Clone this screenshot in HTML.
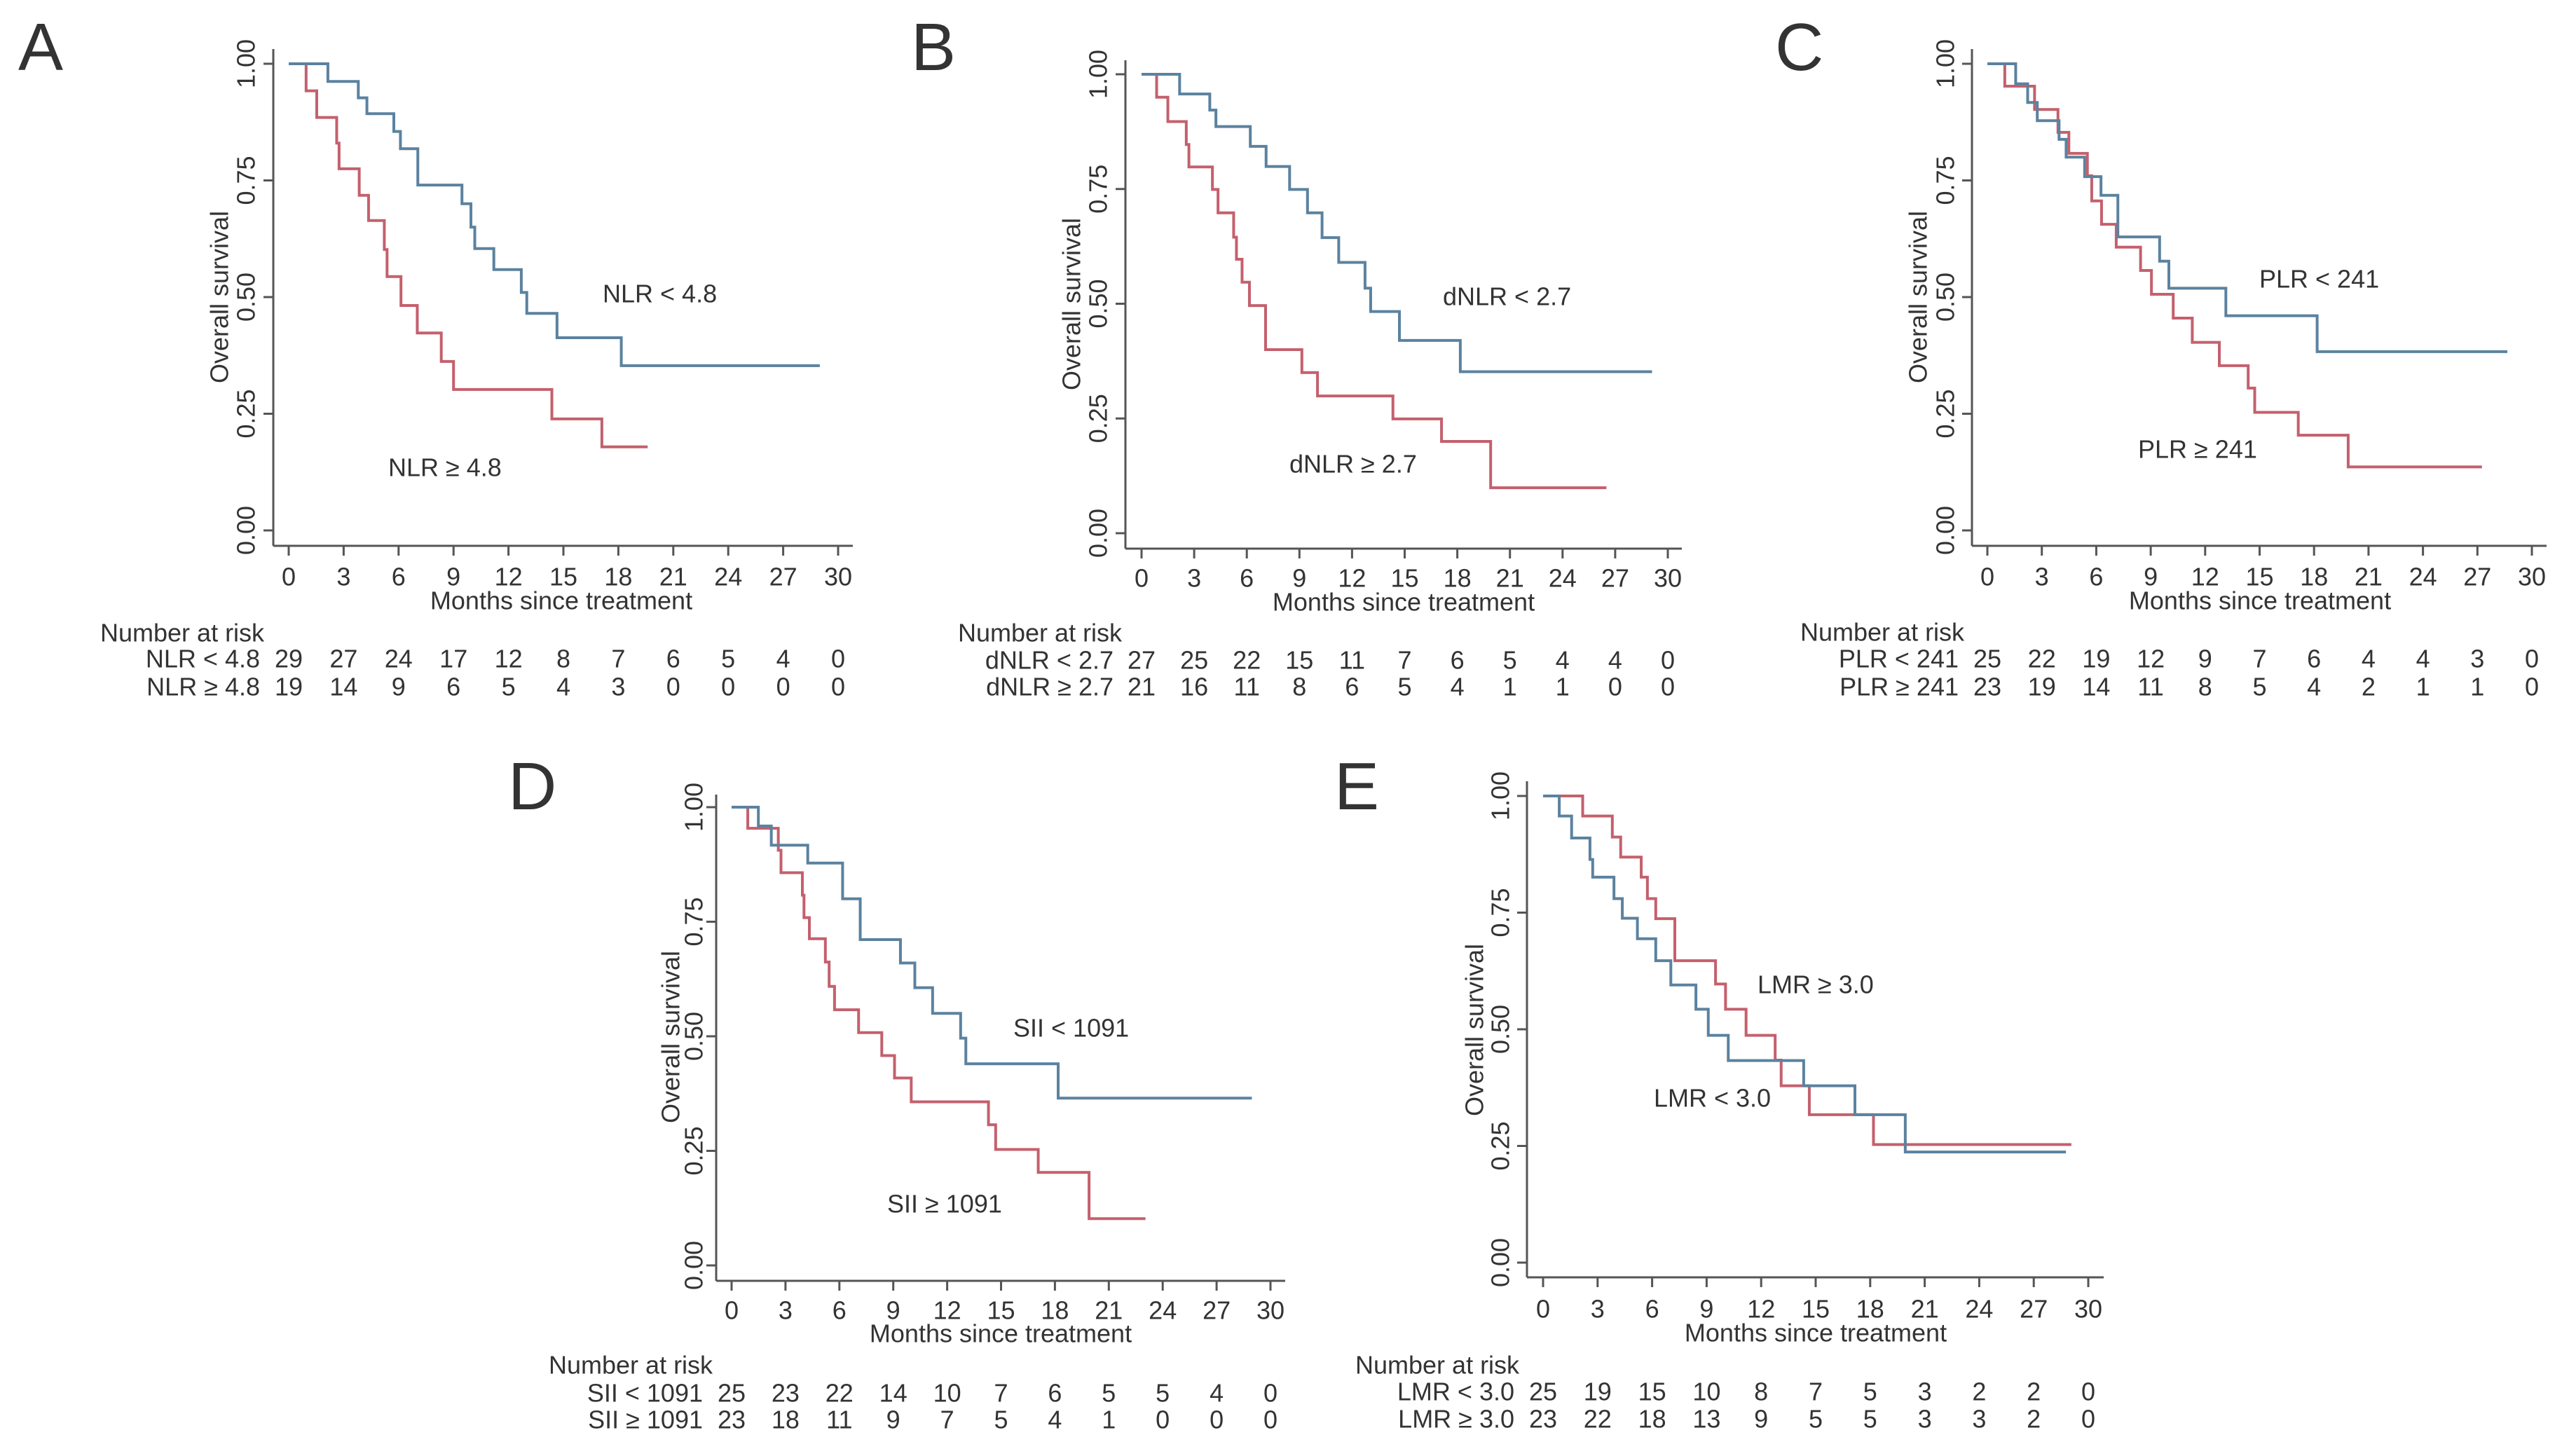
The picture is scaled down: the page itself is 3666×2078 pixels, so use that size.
<!DOCTYPE html>
<html><head><meta charset="utf-8"><style>
html,body{margin:0;padding:0;background:#fff;}
svg{display:block;}
text{font-family:"Liberation Sans",Arial,sans-serif;fill:#333;}
</style></head><body>
<svg id="fig" width="3666" height="2078" viewBox="0 0 3666 2078" xmlns="http://www.w3.org/2000/svg"></svg>
<script>
// ---- data (months, survival after step) ----
const xTicks = [0,3,6,9,12,15,18,21,24,27,30];
const yTicks = [0, 0.25, 0.5, 0.75, 1.0];
const yTickLabels = ["0.00","0.25","0.50","0.75","1.00"];

const aBlueT = [0,2.14,3.8,4.27,5.74,6.1,7.05,9.46,9.95,10.16,11.2,12.7,13.0,14.65,18.16,29.0];
const aBlueS = [1,0.962,0.927,0.893,0.855,0.818,0.74,0.70,0.65,0.604,0.559,0.51,0.465,0.413,0.353,0.353];
const aRedT = [0,0.95,1.53,2.62,2.75,3.85,4.36,5.22,5.37,6.13,7.02,8.33,9.0,14.37,17.1,19.6];
const aRedS = [1,0.942,0.885,0.83,0.775,0.718,0.664,0.602,0.544,0.482,0.423,0.362,0.302,0.239,0.179,0.179];
const aRiskBlue = [29,27,24,17,12,8,7,6,5,4,0];
const aRiskRed = [19,14,9,6,5,4,3,0,0,0,0];

const bBlueT = [0,2.17,3.89,4.24,6.2,7.1,8.44,9.46,10.29,11.24,12.74,13.06,14.7,18.17,29.1];
const bBlueS = [1,0.957,0.922,0.886,0.843,0.799,0.749,0.698,0.644,0.59,0.534,0.483,0.42,0.352,0.352];
const bRedT = [0,0.86,1.5,2.55,2.7,4.04,4.36,5.25,5.41,5.73,6.15,7.07,9.14,10.03,14.33,17.1,19.9,26.5];
const bRedS = [1,0.95,0.897,0.847,0.798,0.749,0.698,0.645,0.597,0.547,0.496,0.4,0.35,0.299,0.249,0.2,0.099,0.099];
const bRiskBlue = [27,25,22,15,11,7,6,5,4,4,0];
const bRiskRed = [21,16,11,8,6,5,4,1,1,0,0];

const cBlueT = [0,1.56,2.22,2.75,3.95,4.34,5.36,6.26,7.19,9.49,10.0,13.14,18.17,28.65];
const cBlueS = [1,0.957,0.917,0.878,0.838,0.8,0.758,0.718,0.629,0.577,0.519,0.46,0.383,0.383];
const cRedT = [0,0.96,2.6,3.89,4.49,5.51,5.75,6.29,7.1,8.44,9.04,10.24,11.29,12.78,14.37,14.73,17.13,19.88,27.25];
const cRedS = [1,0.952,0.902,0.853,0.808,0.76,0.706,0.656,0.607,0.557,0.506,0.455,0.403,0.353,0.305,0.253,0.204,0.136,0.136];
const cRiskBlue = [25,22,19,12,9,7,6,4,4,3,0];
const cRiskRed = [23,19,14,11,8,5,4,2,1,1,0];

const dBlueT = [0,1.49,2.21,4.24,6.18,7.16,9.4,10.2,11.19,12.75,13.04,18.18,28.96];
const dBlueS = [1,0.959,0.917,0.878,0.8,0.711,0.66,0.606,0.55,0.496,0.44,0.365,0.365];
const dRedT = [0,0.9,2.6,2.75,3.94,4.03,4.33,5.22,5.43,5.73,7.07,8.36,9.07,10.0,14.3,14.7,17.07,19.9,23.04];
const dRedS = [1,0.954,0.906,0.857,0.808,0.759,0.713,0.662,0.609,0.558,0.508,0.458,0.409,0.357,0.307,0.253,0.203,0.102,0.102];
const dRiskBlue = [25,23,22,14,10,7,6,5,5,4,0];
const dRiskRed = [23,18,11,9,7,5,4,1,0,0,0];

const eBlueT = [0,0.89,1.57,2.58,2.73,3.9,4.36,5.19,6.2,7.03,8.41,9.09,10.19,14.34,17.16,19.93,28.77];
const eBlueS = [1,0.957,0.91,0.864,0.826,0.78,0.738,0.694,0.647,0.595,0.543,0.487,0.433,0.379,0.317,0.237,0.237];
const eRedT = [0,2.18,3.81,4.27,5.4,5.74,6.2,7.25,9.49,10.04,11.17,12.77,13.1,14.65,18.18,29.07];
const eRedS = [1,0.957,0.912,0.869,0.826,0.78,0.737,0.647,0.597,0.543,0.487,0.434,0.379,0.317,0.253,0.253];
const eRiskBlue = [25,19,15,10,8,7,5,3,2,2,0];
const eRiskRed = [23,22,18,13,9,5,5,3,3,2,0];

// ---- layout (pixels) ----
const panels = [
 {id:'a',letter:'A',lx:26,ly:100,ax:390,x0:412,x30:1196,xr:1217,yt:70,y1:91,y0:757,yb:779,tickY:823,titleY:857,titleX:801,narX:143,narY:903,r1:940,r2:980,labR:371,ytx:313,yty:424,ylx:351,
  blueT:aBlueT,blueS:aBlueS,redT:aRedT,redS:aRedS,riskB:aRiskBlue,riskR:aRiskRed,bl:'NLR < 4.8',rl:'NLR ≥ 4.8',
  bLab:[860,419],rLab:[554,667]},
 {id:'b',letter:'B',lx:1300,ly:100,ax:1606,x0:1629,x30:2380,xr:2400,yt:86,y1:106,y0:761,yb:783,tickY:825,titleY:859,titleX:2003,narX:1367,narY:903,r1:942,r2:980,labR:1589,ytx:1529,yty:434,ylx:1567,
  blueT:bBlueT,blueS:bBlueS,redT:bRedT,redS:bRedS,riskB:bRiskBlue,riskR:bRiskRed,bl:'dNLR < 2.7',rl:'dNLR ≥ 2.7',
  bLab:[2059,423],rLab:[1840,662]},
 {id:'c',letter:'C',lx:2533,ly:100,ax:2814,x0:2836,x30:3613,xr:3634,yt:70,y1:91,y0:757,yb:779,tickY:823,titleY:857,titleX:3225,narX:2569,narY:902,r1:940,r2:980,labR:2795,ytx:2737,yty:424,ylx:2776,
  blueT:cBlueT,blueS:cBlueS,redT:cRedT,redS:cRedS,riskB:cRiskBlue,riskR:cRiskRed,bl:'PLR < 241',rl:'PLR ≥ 241',
  bLab:[3224,398],rLab:[3051,641]},
 {id:'d',letter:'D',lx:725,ly:1155,ax:1022,x0:1044,x30:1813,xr:1834,yt:1134,y1:1152,y0:1806,yb:1828,tickY:1870,titleY:1903,titleX:1428,narX:783,narY:1948,r1:1988,r2:2026,labR:1003,ytx:957,yty:1480,ylx:990,
  blueT:dBlueT,blueS:dBlueS,redT:dRedT,redS:dRedS,riskB:dRiskBlue,riskR:dRiskRed,bl:'SII < 1091',rl:'SII ≥ 1091',
  bLab:[1446,1467],rLab:[1266,1718]},
 {id:'e',letter:'E',lx:1904,ly:1155,ax:2179,x0:2202,x30:2980,xr:3002,yt:1115,y1:1136,y0:1802,yb:1823,tickY:1868,titleY:1902,titleX:2591,narX:1934,narY:1948,r1:1986,r2:2025,labR:2161,ytx:2104,yty:1470,ylx:2141,
  blueT:eBlueT,blueS:eBlueS,redT:eRedT,redS:eRedS,riskB:eRiskBlue,riskR:eRiskRed,bl:'LMR < 3.0',rl:'LMR ≥ 3.0',
  bLab:[2360,1567],rLab:[2508,1405]}
];

const NS='http://www.w3.org/2000/svg';
const svg=document.getElementById('fig');
function mk(tag,attrs,parent){const e=document.createElementNS(NS,tag);for(const k in attrs)e.setAttribute(k,attrs[k]);(parent||svg).appendChild(e);return e;}
function txt(s,attrs,parent){const e=mk('text',attrs,parent);e.textContent=s;return e;}

panels.forEach(p=>{
  const g=mk('g',{});
  
  
  const xs=m=>p.x0+(p.x30-p.x0)*m/30;
  const ys=v=>p.y0-(p.y0-p.y1)*v;
  const L=txt(p.letter,{x:p.lx,y:p.ly,'font-size':96,fill:'#000'},g);
  
  
  const ya=mk('line',{x1:p.ax,y1:p.yt,x2:p.ax,y2:p.yb,stroke:'#555','stroke-width':3},g);
  
  
  const xa=mk('line',{x1:p.ax,y1:p.yb,x2:p.xr,y2:p.yb,stroke:'#555','stroke-width':3},g);
  
  
  yTicks.forEach((v,i)=>{
    const y=ys(v);
    mk('line',{x1:p.ax-14,y1:y,x2:p.ax,y2:y,stroke:'#555','stroke-width':3},g);
    const t=txt(yTickLabels[i],{x:p.ylx,y:y,'font-size':36,'text-anchor':'middle','dominant-baseline':'central',transform:`rotate(-90 ${p.ylx} ${y})`},g);
    
    
  });
  xTicks.forEach(m=>{
    const x=xs(m);
    mk('line',{x1:x,y1:p.yb,x2:x,y2:p.yb+14,stroke:'#555','stroke-width':3},g);
    const t=txt(String(m),{x:x,y:p.tickY,'font-size':36,'text-anchor':'middle','dominant-baseline':'central'},g);
    
    
  });
  const xt=txt('Months since treatment',{x:p.titleX,y:p.titleY,'font-size':36,'text-anchor':'middle','dominant-baseline':'central'},g);
  
  
  const yt=txt('Overall survival',{x:p.ytx,y:p.yty,'font-size':36,'text-anchor':'middle','dominant-baseline':'central',transform:`rotate(-90 ${p.ytx} ${p.yty})`},g);
  
  
  function step(T,S,color,name){
    let d=`M${xs(T[0])},${ys(S[0])}`;
    for(let i=1;i<T.length;i++){d+=` H${xs(T[i])} V${ys(S[i])}`;}
    const path=mk('path',{d:d,fill:'none',stroke:color,'stroke-width':4},g);
    
    
  }
  step(p.redT,p.redS,'#c4606d','km-curve-high');
  step(p.blueT,p.blueS,'#5b829f','km-curve-low');
  const bl=txt(p.bl,{x:p.bLab[0],y:p.bLab[1],'font-size':36,'dominant-baseline':'central'},g);
  
  
  const rl=txt(p.rl,{x:p.rLab[0],y:p.rLab[1],'font-size':36,'dominant-baseline':'central'},g);
  
  
  const nt=txt('Number at risk',{x:p.narX,y:p.narY,'font-size':36,'dominant-baseline':'central'},g);
  
  
  const l1=txt(p.bl,{x:p.labR,y:p.r1,'font-size':36,'text-anchor':'end','dominant-baseline':'central'},g);
  
  
  const l2=txt(p.rl,{x:p.labR,y:p.r2,'font-size':36,'text-anchor':'end','dominant-baseline':'central'},g);
  
  
  xTicks.forEach((m,i)=>{
    const a=txt(String(p.riskB[i]),{x:xs(m),y:p.r1,'font-size':36,'text-anchor':'middle','dominant-baseline':'central'},g);
    
    
    const b=txt(String(p.riskR[i]),{x:xs(m),y:p.r2,'font-size':36,'text-anchor':'middle','dominant-baseline':'central'},g);
    
    
  });
});
</script>
</body></html>
